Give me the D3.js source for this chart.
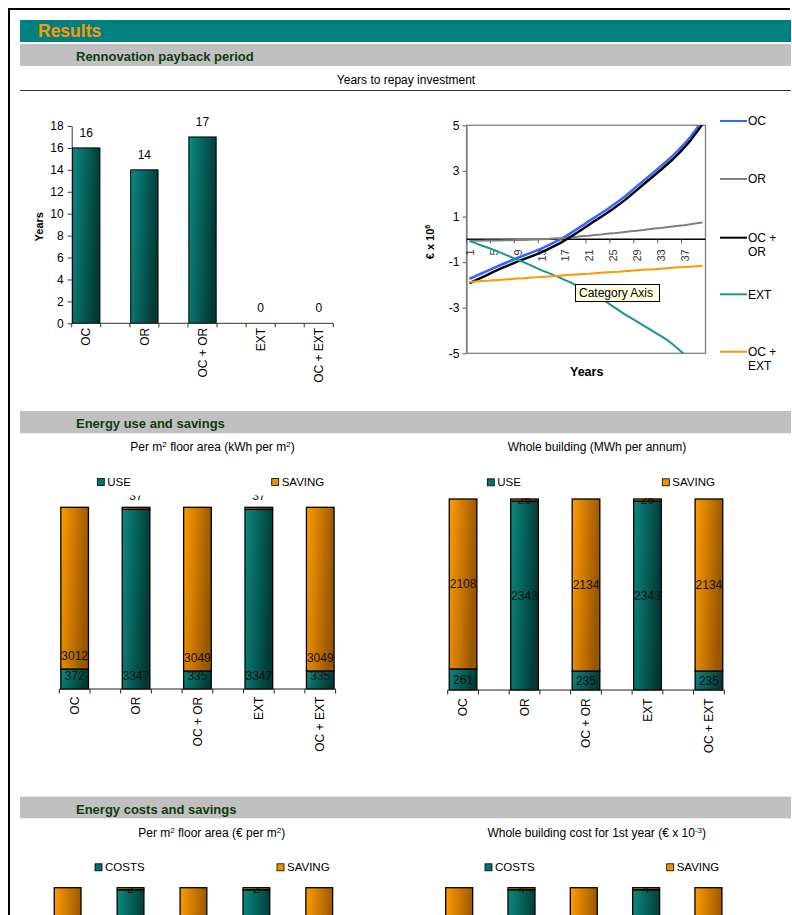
<!DOCTYPE html>
<html>
<head>
<meta charset="utf-8">
<script src="https://cdn.jsdelivr.net/npm/d3@7"></script>
<style>
  html, body { margin: 0; padding: 0; background: #fff; }
  svg { display: block; font-family: "Liberation Sans", Arial, sans-serif; }
</style>
</head>
<body>
<svg id="page" width="792" height="915"></svg>
<script>
// ---------- data ----------
const options = ["OC", "OR", "OC + OR", "EXT", "OC + EXT"];

// Payback period (years)
const paybackYears = [16, 14, 17, 0, 0];
const paybackTicks = [0, 2, 4, 6, 8, 10, 12, 14, 16, 18];

// Cumulative net value per year (€ x 10^6)
const years = [1, 2, 3, 4, 5, 6, 7, 8, 9, 10, 11, 12, 13, 14, 15, 16, 17, 18, 19, 20,
               21, 22, 23, 24, 25, 26, 27, 28, 29, 30, 31, 32, 33, 34, 35, 36, 37, 38, 39, 40];
const yearLabels = [1, 5, 9, 13, 17, 21, 25, 29, 33, 37];
const valueTicks = [-5, -3, -1, 1, 3, 5];
const cashOC = [-1.73, -1.62, -1.50, -1.38, -1.26, -1.15, -1.04, -0.93, -0.82, -0.72,
                -0.62, -0.52, -0.41, -0.29, -0.16, -0.03, 0.12, 0.28, 0.45, 0.62,
                0.80, 0.97, 1.14, 1.31, 1.49, 1.68, 1.88, 2.10, 2.32, 2.54,
                2.76, 2.98, 3.20, 3.43, 3.66, 3.92, 4.20, 4.50, 4.85, 5.20];
const cashOR = [-0.06, -0.06, -0.06, -0.05, -0.05, -0.05, -0.04, -0.04, -0.03, -0.03,
                -0.02, -0.01, 0.00, 0.01, 0.03, 0.05, 0.07, 0.09, 0.11, 0.14,
                0.16, 0.19, 0.21, 0.24, 0.26, 0.29, 0.32, 0.35, 0.38, 0.41,
                0.44, 0.47, 0.50, 0.53, 0.56, 0.59, 0.62, 0.66, 0.70, 0.74];
const cashOCOR = [-1.92, -1.80, -1.68, -1.56, -1.43, -1.31, -1.20, -1.09, -0.98, -0.88,
                  -0.78, -0.68, -0.57, -0.45, -0.32, -0.19, -0.04, 0.12, 0.29, 0.46,
                  0.64, 0.81, 0.98, 1.15, 1.33, 1.52, 1.72, 1.94, 2.16, 2.38,
                  2.60, 2.82, 3.04, 3.27, 3.50, 3.76, 4.04, 4.34, 4.69, 5.04];
const cashEXT = [-0.08, -0.17, -0.27, -0.36, -0.46, -0.56, -0.67, -0.78, -0.89, -1.00,
                 -1.11, -1.23, -1.35, -1.45, -1.56, -1.67, -1.79, -1.90, -2.04, -2.18,
                 -2.32, -2.46, -2.61, -2.76, -2.94, -3.12, -3.29, -3.45, -3.60, -3.76,
                 -3.92, -4.08, -4.24, -4.40, -4.60, -4.82, -5.06, -5.30, -5.55, -5.80];
const cashOCEXT = [-1.87, -1.85, -1.83, -1.82, -1.80, -1.78, -1.76, -1.74, -1.72, -1.71,
                   -1.69, -1.67, -1.65, -1.63, -1.62, -1.60, -1.58, -1.56, -1.54, -1.52,
                   -1.51, -1.49, -1.47, -1.45, -1.43, -1.42, -1.40, -1.38, -1.36, -1.34,
                   -1.33, -1.31, -1.29, -1.27, -1.25, -1.23, -1.22, -1.20, -1.18, -1.16];
const lineNames = ["OC", "OR", "OC + OR", "EXT", "OC + EXT"];

// Energy use and savings
const useM2 = [372, 3347, 335, 3347, 335];          // kWh per m2
const savingM2 = [3012, 37, 3049, 37, 3049];
const useBuilding = [261, 2343, 235, 2343, 235];    // MWh per annum
const savingBuilding = [2108, 26, 2134, 26, 2134];

// Energy costs and savings
const costM2 = [20, 178, 18, 178, 18];              // € per m2
const costSavingM2 = [160, 2, 162, 2, 162];
const costBuilding = [40, 356, 36, 356, 36];        // € x 10^-3
const costSavingBuilding = [320, 4, 324, 4, 324];

// ---------- page ----------
const W = 792, H = 915;
const svg = d3.select("#page");
const defs = svg.append("defs");

function gradient(id, c0, c1) {
  const g = defs.append("linearGradient").attr("id", id)
    .attr("x1", 0).attr("y1", 0).attr("x2", 1).attr("y2", 0.25);
  g.append("stop").attr("offset", 0).attr("stop-color", c0);
  g.append("stop").attr("offset", 1).attr("stop-color", c1);
}
gradient("gTeal", "#0a8a82", "#033a36");
gradient("gOrange", "#ff9c00", "#985600");

const TEAL = "#008080", ORANGE = "#ff9900", HEAD = "#0f3d12", BAND = "#c0c0c0";
const plain = v => String(v);

// outer frame
svg.append("line").attr("x1", 8).attr("x2", 790).attr("y1", 9).attr("y2", 9)
  .attr("stroke", "#000").attr("stroke-width", 2);
svg.append("line").attr("x1", 9).attr("x2", 9).attr("y1", 8).attr("y2", H)
  .attr("stroke", "#000").attr("stroke-width", 2);

// title bar
svg.append("rect").attr("x", 20).attr("y", 20).attr("width", 771).attr("height", 22).attr("fill", TEAL);
svg.append("text").attr("x", 38).attr("y", 37.3).attr("font-size", 17.5).attr("font-weight", "bold")
  .attr("fill", ORANGE).text("Results");

function sectionBand(y, h, label) {
  svg.append("rect").attr("x", 20).attr("y", y).attr("width", 771).attr("height", h).attr("fill", BAND);
  svg.append("text").attr("x", 76).attr("y", y + 17).attr("font-size", 13).attr("font-weight", "bold")
    .attr("fill", HEAD).text(label);
}
sectionBand(44, 22, "Rennovation payback period");
sectionBand(411, 22.3, "Energy use and savings");
sectionBand(796.7, 21.6, "Energy costs and savings");

svg.append("text").attr("x", 406).attr("y", 83.5).attr("text-anchor", "middle")
  .attr("font-size", 12).text("Years to repay investment");
svg.append("line").attr("x1", 20).attr("x2", 791).attr("y1", 90.5).attr("y2", 90.5)
  .attr("stroke", "#333").attr("stroke-width", 1);

// ---------- payback bar chart ----------
(function () {
  const g = svg.append("g");
  const x = d3.scaleBand().domain(d3.range(2 * options.length - 1))
    .range([71.7, 333.3]).paddingInner(0.06).paddingOuter(0.03);
  const y = d3.scaleLinear().domain([0, 18]).range([323.3, 126]);

  g.append("g").attr("transform", "translate(71.7,0)")
    .call(d3.axisLeft(y).tickValues(paybackTicks).tickFormat(plain).tickSize(4).tickSizeOuter(0).tickPadding(4))
    .call(a => a.selectAll("text").attr("font-size", 12).attr("font-family", "Liberation Sans, Arial, sans-serif").attr("fill", "#000"))
    .call(a => a.selectAll("line,path").attr("stroke", "#333"));

  g.selectAll("rect.bar").data(paybackYears).join("rect").attr("class", "bar")
    .attr("x", (d, i) => x(2 * i)).attr("width", x.bandwidth())
    .attr("y", d => y(d)).attr("height", d => y(0) - y(d))
    .attr("fill", "url(#gTeal)").attr("stroke", "#000").attr("stroke-width", 1);

  g.selectAll("text.val").data(paybackYears).join("text").attr("class", "val")
    .attr("x", (d, i) => x(2 * i) + x.bandwidth() / 2).attr("y", d => y(d) - 11)
    .attr("text-anchor", "middle").attr("font-size", 12).text(d => d);

  // category axis
  const [r0, r1] = x.range();
  g.append("line").attr("x1", r0).attr("x2", r1).attr("y1", y(0)).attr("y2", y(0)).attr("stroke", "#333");
  g.selectAll("line.tk").data(d3.range(2 * options.length)).join("line").attr("class", "tk")
    .attr("x1", k => r0 + k * x.step()).attr("x2", k => r0 + k * x.step())
    .attr("y1", y(0)).attr("y2", y(0) + 4).attr("stroke", "#333");
  g.selectAll("text.cat").data(options).join("text").attr("class", "cat")
    .attr("transform", (d, i) => `translate(${x(2 * i) + x.bandwidth() / 2},${y(0) + 4.5}) rotate(-90)`)
    .attr("text-anchor", "end").attr("dy", "0.35em").attr("font-size", 12).text(d => d);

  g.append("text").attr("transform", "translate(42.5,226.7) rotate(-90)")
    .attr("text-anchor", "middle").attr("font-size", 11).attr("font-weight", "bold").text("Years");
})();

// ---------- cumulative value line chart ----------
(function () {
  const g = svg.append("g");
  const x = d3.scalePoint().domain(years).range([466.5, 705.5]).padding(0.5);
  const y = d3.scaleLinear().domain([-5, 5]).range([353.3, 125.3]);
  const [px0, px1] = x.range();

  defs.append("clipPath").attr("id", "plotClip").append("rect")
    .attr("x", px0).attr("y", y(5)).attr("width", px1 - px0).attr("height", y(-5) - y(5));

  g.append("rect").attr("x", px0).attr("y", y(5)).attr("width", px1 - px0).attr("height", y(-5) - y(5))
    .attr("fill", "none").attr("stroke", "#808080").attr("stroke-width", 1.3);

  g.append("g").attr("transform", `translate(${px0},0)`)
    .call(d3.axisLeft(y).tickValues(valueTicks).tickFormat(plain).tickSize(4).tickSizeOuter(0).tickPadding(3))
    .call(a => a.selectAll("text").attr("font-size", 12).attr("font-family", "Liberation Sans, Arial, sans-serif").attr("fill", "#000"))
    .call(a => a.selectAll("line,path").attr("stroke", "#808080").attr("stroke-width", 1.3));

  // category axis crossing at zero
  g.append("line").attr("x1", px0).attr("x2", px1).attr("y1", y(0)).attr("y2", y(0))
    .attr("stroke", "#000").attr("stroke-width", 1.4);
  g.selectAll("line.tk").data(yearLabels).join("line").attr("class", "tk")
    .attr("x1", d => x(d) - x.step() / 2).attr("x2", d => x(d) - x.step() / 2)
    .attr("y1", y(0)).attr("y2", y(0) + 4).attr("stroke", "#555");
  g.selectAll("text.yl").data(yearLabels).join("text").attr("class", "yl")
    .attr("transform", d => `translate(${x(d) + 0.5},${y(0) + 10}) rotate(-90)`)
    .attr("text-anchor", "end").attr("dy", "0.35em").attr("font-size", 11).attr("fill", "#333").text(d => d);

  const seriesList = [
    { name: lineNames[0], values: cashOC, color: "#3366ff", w: 2.5 },
    { name: lineNames[1], values: cashOR, color: "#808080", w: 2 },
    { name: lineNames[2], values: cashOCOR, color: "#000000", w: 2.4 },
    { name: lineNames[3], values: cashEXT, color: "#16998c", w: 2 },
    { name: lineNames[4], values: cashOCEXT, color: "#ff9900", w: 2 }
  ];
  const line = d3.line().x((d, i) => x(years[i])).y(d => y(d));
  const lg = g.append("g").attr("clip-path", "url(#plotClip)");
  seriesList.forEach(s => {
    lg.append("path").attr("d", line(s.values)).attr("fill", "none")
      .attr("stroke", s.color).attr("stroke-width", s.w).attr("stroke-linejoin", "round");
  });

  // legend
  const legendY = [121, 179, 237.7, 294.3, 351.7];
  seriesList.forEach((s, i) => {
    const ly = legendY[i];
    g.append("line").attr("x1", 720).attr("x2", 747).attr("y1", ly).attr("y2", ly)
      .attr("stroke", s.color).attr("stroke-width", 2);
    const parts = s.name.includes(" + ") ? [s.name.split(" + ")[0] + " +", s.name.split(" + ")[1]] : [s.name];
    parts.forEach((p, j) => {
      g.append("text").attr("x", 748).attr("y", ly + j * 14.5).attr("dy", "0.35em")
        .attr("font-size", 12).text(p);
    });
  });

  // axis titles
  g.append("text").attr("x", 586.7).attr("y", 376).attr("text-anchor", "middle")
    .attr("font-size", 12.5).attr("font-weight", "bold").text("Years");
  const yt = g.append("text").attr("transform", "translate(434,242) rotate(-90)")
    .attr("text-anchor", "middle").attr("font-size", 11).attr("font-weight", "bold");
  yt.append("tspan").text("€ x 10");
  yt.append("tspan").attr("font-size", 7).attr("dy", -4).text("6");

  // hover tip
  g.append("rect").attr("x", 575.5).attr("y", 284.5).attr("width", 84).attr("height", 17)
    .attr("fill", "#ffffe1").attr("stroke", "#000").attr("stroke-width", 1);
  g.append("text").attr("x", 579).attr("y", 297).attr("font-size", 12).text("Category Axis");
})();

// ---------- 100% stacked bar charts ----------
let clipCount = 0;
function stackedChart(cfg) {
  const rows = options.map((c, i) => ({ i, a: cfg.a[i], b: cfg.b[i] }));
  const series = d3.stack().keys(["a", "b"]).offset(d3.stackOffsetExpand)(rows);
  const x = d3.scaleBand().domain(d3.range(2 * options.length - 1))
    .range([cfg.x0, cfg.x1]).paddingInner(cfg.pad).paddingOuter(cfg.pad / 2);
  const y = d3.scaleLinear().domain([0, 1]).range([cfg.bottom, cfg.top]);
  const g = svg.append("g");
  const onPage = yy => yy < H - 4;

  // subtitle
  const st = g.append("text").attr("x", cfg.titleX).attr("y", cfg.titleY)
    .attr("text-anchor", "middle").attr("font-size", 12);
  cfg.title.forEach(p => {
    const t = st.append("tspan").text(p.t);
    if (p.sup) t.attr("font-size", 8).attr("dy", -4);
    if (p.down) t.attr("dy", 4);
  });

  // legend
  cfg.legend.forEach((L, k) => {
    g.append("rect").attr("x", L.x).attr("y", cfg.legendY - 3.5).attr("width", 7).attr("height", 7)
      .attr("fill", k === 0 ? "#00736e" : "#f09000").attr("stroke", "#000").attr("stroke-width", 0.8);
    g.append("text").attr("x", L.x + 10).attr("y", cfg.legendY).attr("dy", "0.36em")
      .attr("font-size", 11.5).text(L.label);
  });

  // segments
  series.forEach((s, si) => {
    g.selectAll(null).data(s).join("rect")
      .attr("x", d => x(2 * d.data.i)).attr("width", x.bandwidth())
      .attr("y", d => y(d[1])).attr("height", d => y(d[0]) - y(d[1]))
      .attr("fill", si === 0 ? "url(#gTeal)" : "url(#gOrange)")
      .attr("stroke", "#000").attr("stroke-width", 1.3);
  });

  // value labels
  const labelY = d => cfg.base ? y(d[0]) - 13.5 : (y(d[0]) + y(d[1])) / 2;
  const cid = "lblClip" + (clipCount++);
  defs.append("clipPath").attr("id", cid).append("rect")
    .attr("x", 0).attr("y", cfg.clipTop).attr("width", W).attr("height", cfg.bottom - cfg.clipTop + 30);
  const lg = g.append("g").attr("clip-path", `url(#${cid})`);
  series.forEach((s, si) => {
    lg.selectAll(null).data(s.filter(d => onPage(labelY(d)))).join("text")
      .attr("x", d => x(2 * d.data.i) + x.bandwidth() / 2)
      .attr("y", labelY)
      .attr("dy", "0.35em").attr("text-anchor", "middle").attr("font-size", 12).attr("fill", "#111")
      .text(d => d.data[si === 0 ? "a" : "b"]);
  });

  // category axis
  const [r0, r1] = x.range();
  g.append("line").attr("x1", r0).attr("x2", r1).attr("y1", cfg.bottom).attr("y2", cfg.bottom).attr("stroke", "#222");
  g.selectAll(null).data(d3.range(2 * options.length)).join("line")
    .attr("x1", k => r0 + k * x.step()).attr("x2", k => r0 + k * x.step())
    .attr("y1", cfg.bottom).attr("y2", cfg.bottom + 4.5).attr("stroke", "#222");
  if (onPage(cfg.bottom + cfg.catGap)) {
    g.selectAll(null).data(options).join("text")
      .attr("transform", (d, i) => `translate(${x(2 * i) + x.bandwidth() / 2},${cfg.bottom + cfg.catGap}) rotate(-90)`)
      .attr("text-anchor", "end").attr("dy", "0.35em").attr("font-size", 12).text(d => d);
  }
}

stackedChart({
  a: useM2, b: savingM2, x0: 59.3, x1: 335.6, pad: 0.1, top: 507.3, bottom: 689,
  base: true, clipTop: 495.5, catGap: 7.7,
  titleX: 212.5, titleY: 450.5,
  title: [{ t: "Per m" }, { t: "2", sup: true }, { t: " floor area (kWh per m", down: true }, { t: "2", sup: true }, { t: ")", down: true }],
  legendY: 482, legend: [{ x: 97.3, label: "USE" }, { x: 271.7, label: "SAVING" }]
});
stackedChart({
  a: useBuilding, b: savingBuilding, x0: 447.7, x1: 724.3, pad: 0.1, top: 499, bottom: 690,
  base: false, clipTop: 498, catGap: 8.3,
  titleX: 597, titleY: 450.5,
  title: [{ t: "Whole building (MWh per annum)" }],
  legendY: 482.3, legend: [{ x: 487.3, label: "USE" }, { x: 662.3, label: "SAVING" }]
});
stackedChart({
  a: costM2, b: costSavingM2, x0: 51.9, x1: 335, pad: 0.15, top: 887.7, bottom: 1072,
  base: false, clipTop: 887, catGap: 8,
  titleX: 211.7, titleY: 836.5,
  title: [{ t: "Per m" }, { t: "2", sup: true }, { t: " floor area (€ per m", down: true }, { t: "2", sup: true }, { t: ")", down: true }],
  legendY: 867.3, legend: [{ x: 95, label: "COSTS" }, { x: 277, label: "SAVING" }]
});
stackedChart({
  a: costBuilding, b: costSavingBuilding, x0: 443.6, x1: 724, pad: 0.134, top: 887.7, bottom: 1072,
  base: false, clipTop: 887, catGap: 8,
  titleX: 596.7, titleY: 836.5,
  title: [{ t: "Whole building cost for 1st year (€ x 10" }, { t: "-3", sup: true }, { t: ")", down: true }],
  legendY: 867.3, legend: [{ x: 485, label: "COSTS" }, { x: 666.7, label: "SAVING" }]
});
</script>
</body>
</html>
